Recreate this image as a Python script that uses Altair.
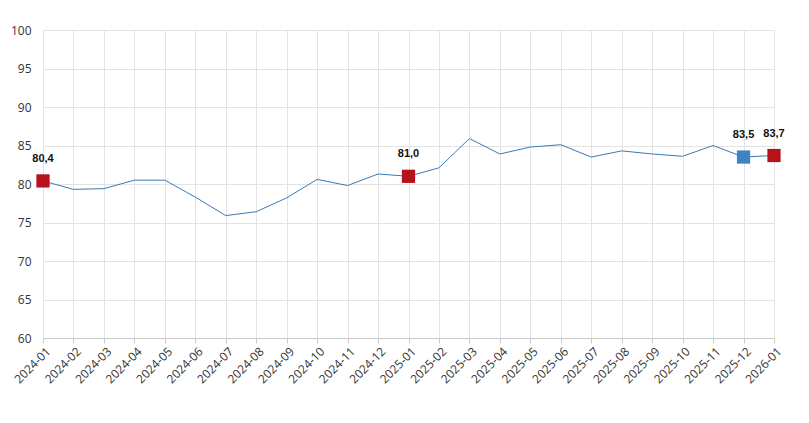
import altair as alt
import pandas as pd

months = ["2024-01","2024-02","2024-03","2024-04","2024-05","2024-06","2024-07","2024-08",
          "2024-09","2024-10","2024-11","2024-12","2025-01","2025-02","2025-03","2025-04",
          "2025-05","2025-06","2025-07","2025-08","2025-09","2025-10","2025-11","2025-12","2026-01"]
values = [80.4, 79.3, 79.4, 80.5, 80.5, 78.3, 75.9, 76.4, 78.2, 80.6, 79.8, 81.3, 81.0,
          82.1, 85.9, 83.9, 84.8, 85.1, 83.5, 84.3, 83.9, 83.6, 85.0, 83.5, 83.7]
y_ticks = [60, 65, 70, 75, 80, 85, 90, 95, 100]

mark_months = ["2024-01", "2025-01", "2025-12", "2026-01"]
mark_values = [80.4, 81.0, 83.5, 83.7]
mark_labels = ["80,4", "81,0", "83,5", "83,7"]
mark_colors = ["#b5121b", "#b5121b", "#3a84c4", "#b5121b"]

df = pd.DataFrame({"month": months, "value": values})
dm = pd.DataFrame({"month": mark_months, "value": mark_values,
                   "label": mark_labels, "color": mark_colors})

x = alt.X("month:O", sort=months,
          scale=alt.Scale(type="point", padding=0),
          axis=alt.Axis(title=None, labelAngle=-45, labelAlign="right", labelBaseline="middle",
                        labelFontSize=12, labelColor="#333", labelFont="Open Sans",
                        grid=True, gridColor="#e3e3e3", tickColor="#cccccc", tickSize=5,
                        domainColor="#cccccc", labelPadding=6, labelOffset=5,
                        labelOverlap=False))
y = alt.Y("value:Q", scale=alt.Scale(domain=[60, 100], nice=False, zero=False),
          axis=alt.Axis(title=None, values=y_ticks,
                        labelFontSize=12, labelColor="#333", labelFont="Open Sans",
                        ticks=False, domain=False, gridColor="#e3e3e3", labelPadding=12,
                        labelOverlap=False))

line = alt.Chart(df).mark_line(color="#3a7ab8", strokeWidth=1).encode(x=x, y=y)
pts = alt.Chart(dm).mark_square(size=175, opacity=1).encode(
    x=x, y=y, color=alt.Color("color:N", scale=None))
txt = alt.Chart(dm).mark_text(dy=-22, fontSize=11, fontWeight="bold", font="Liberation Sans",
                              color="#111").encode(x=x, y=y, text="label:N")

chart = (line + pts + txt).properties(
    width=731, height=308,
    autosize=alt.AutoSizeParams(type="none"),
    padding={"left": 35, "top": 22, "right": 20, "bottom": 60},
).configure_view(stroke=None)

chart.save("out.html", embed_options={"renderer": "svg", "actions": False})
